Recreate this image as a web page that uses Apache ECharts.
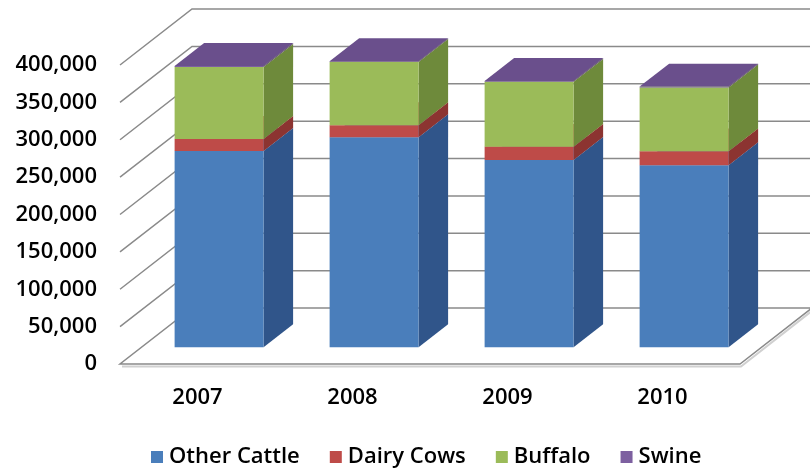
<!DOCTYPE html>
<html>
<head>
<meta charset="utf-8">
<script src="https://cdn.jsdelivr.net/npm/echarts@6/dist/echarts.min.js"></script>
<style>
  html, body { margin: 0; padding: 0; background: #fff; }
  #chart { width: 810px; height: 469px; }
</style>
</head>
<body>
<div id="chart"></div>
<script>
// Livestock emissions by year, stacked per source
const categories = ['2007', '2008', '2009', '2010'];
const otherCattle = [262500, 281000, 250500, 243500];
const dairyCows = [16000, 16000, 17500, 18500];
const buffalo = [96500, 84500, 87000, 85500];
const swine = [1200, 1200, 1100, 1100];
const yTicks = [0, 50000, 100000, 150000, 200000, 250000, 300000, 350000, 400000];

// Oblique depth of the plot box (pixels) and where bars sit inside it
const DEPTH_X = 72;
const DEPTH_Y = -56;
const BAR_FRONT = 0.30;   // fraction of depth in front of the bars
const BAR_DEPTH = 0.41;   // fraction of depth taken by a bar
const BAR_WIDTH = 0.574;  // fraction of the category band

const GRID_COLOR = '#8a8a8a';
const FONT = 'Open Sans';
const WEIGHT = 600;

const seriesDefs = [
  { name: 'Other Cattle', values: otherCattle, front: '#4a7ebb', side: '#30558a', top: '#5b8cc6' },
  { name: 'Dairy Cows', values: dairyCows, front: '#be4b48', side: '#8c3431', top: '#c96360' },
  { name: 'Buffalo', values: buffalo, front: '#9bbb59', side: '#6e8a3b', top: '#adc874' },
  { name: 'Swine', values: swine, front: '#7d60a0', side: '#5d4579', top: '#6a4f8c' }
];

// cumulative bases for the stack
const stackData = [];
let running = categories.map(() => 0);
seriesDefs.forEach(def => {
  const rows = def.values.map((v, i) => {
    const base = running[i];
    return [i, base, base + v];
  });
  running = running.map((r, i) => r + def.values[i]);
  stackData.push(rows);
});

function renderFrame(params, api) {
  const cs = params.coordSys;
  const v = api.value(1);
  const y = api.coord([0, v])[1];
  const left = cs.x;
  const right = cs.x + cs.width;
  const style = { stroke: GRID_COLOR, lineWidth: 1.5, fill: null };
  if (v === 0) {
    return {
      type: 'group',
      children: [
        {
          type: 'polyline',
          shape: { points: [[left + 2, y + 2.5], [right + 1, y + 2.5], [right + DEPTH_X + 1, y + DEPTH_Y + 2]] },
          style: { stroke: '#d0d0d0', lineWidth: 2, fill: null }
        },
        {
          type: 'polygon',
          shape: { points: [[left, y], [right, y], [right + DEPTH_X, y + DEPTH_Y], [left + DEPTH_X, y + DEPTH_Y]] },
          style: { stroke: GRID_COLOR, lineWidth: 1.5, fill: '#ffffff' }
        }
      ]
    };
  }
  return {
    type: 'polyline',
    shape: { points: [[left, y], [left + DEPTH_X, y + DEPTH_Y], [right + DEPTH_X, y + DEPTH_Y]] },
    style: style
  };
}

function makeBarRenderer(def) {
  return function (params, api) {
    const i = api.value(0);
    const band = api.size([1, 0])[0];
    const cx = api.coord([i, 0])[0];
    const yb = api.coord([i, api.value(1)])[1];
    const yt = api.coord([i, api.value(2)])[1];
    const w = band * BAR_WIDTH;
    const ox = BAR_FRONT * DEPTH_X, oy = BAR_FRONT * DEPTH_Y;
    const bdx = BAR_DEPTH * DEPTH_X, bdy = BAR_DEPTH * DEPTH_Y;
    const x0 = cx - w / 2 + ox, x1 = x0 + w;
    const y0 = yb + oy, y1 = yt + oy;
    return {
      type: 'group',
      children: [
        {
          type: 'polygon',
          shape: { points: [[x1, y0], [x1, y1], [x1 + bdx, y1 + bdy], [x1 + bdx, y0 + bdy]] },
          style: { fill: def.side }
        },
        {
          type: 'polygon',
          shape: { points: [[x0, y1], [x1, y1], [x1 + bdx, y1 + bdy], [x0 + bdx, y1 + bdy]] },
          style: { fill: def.top }
        },
        {
          type: 'rect',
          shape: { x: x0, y: y1, width: w, height: Math.max(y0 - y1, 0.6) },
          style: { fill: def.front }
        }
      ]
    };
  };
}

const chart = echarts.init(document.getElementById('chart'), null, { renderer: 'canvas' });

const series = [
  {
    type: 'custom',
    name: 'frame',
    silent: true,
    z: 1,
    renderItem: renderFrame,
    encode: { x: 0, y: 1 },
    data: yTicks.map(v => [0, v])
  }
].concat(seriesDefs.map((def, k) => ({
  type: 'custom',
  name: def.name,
  silent: true,
  z: 3 + k,
  itemStyle: { color: def.front },
  renderItem: makeBarRenderer(def),
  encode: { x: 0, y: [1, 2] },
  data: stackData[k]
})));

chart.setOption({
  animation: false,
  backgroundColor: '#ffffff',
  grid: { left: 120, right: 70, top: 65, bottom: 105, containLabel: false },
  xAxis: {
    type: 'category',
    data: categories,
    boundaryGap: true,
    axisLine: { show: false },
    axisTick: { show: false },
    splitLine: { show: false },
    axisLabel: { color: '#000', fontFamily: FONT, fontSize: 22, fontWeight: WEIGHT, margin: 23 }
  },
  yAxis: {
    type: 'value',
    min: 0,
    max: 400000,
    interval: 50000,
    axisLine: { show: false },
    axisTick: { show: false },
    splitLine: { show: false },
    axisLabel: {
      color: '#000',
      fontFamily: FONT,
      fontSize: 22,
      fontWeight: WEIGHT,
      margin: 23,
      padding: [5, 0, 0, 0],
      formatter: v => v.toLocaleString('en-US')
    }
  },
  legend: {
    data: seriesDefs.map(d => d.name),
    left: 146,
    top: 441,
    icon: 'rect',
    itemWidth: 12,
    itemHeight: 12,
    itemGap: 30,
    selectedMode: false,
    textStyle: { color: '#000', fontFamily: FONT, fontSize: 22, fontWeight: WEIGHT, padding: [0, 0, 0, 1] }
  },
  series: series
});
</script>
</body>
</html>
